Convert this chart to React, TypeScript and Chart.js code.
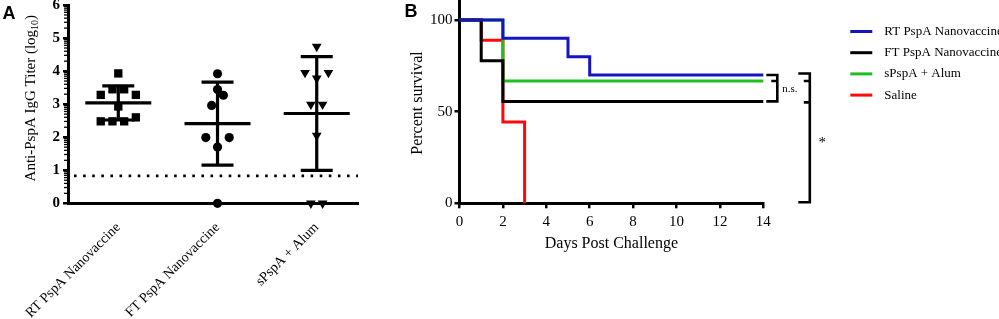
import React, { useEffect, useRef } from "react";
import { Chart, registerables } from "chart.js";
Chart.register(...registerables);

// ---------- Panel A data ----------
const groupNames = ["RT PspA Nanovaccine", "FT PspA Nanovaccine", "sPspA + Alum"];
const rtTiters = [3.93, 3.28, 3.45, 3.45, 3.28, 2.93, 2.48, 2.48, 2.48, 2.6];
const ftTiters = [3.92, 3.44, 2.96, 3.27, 1.99, 1.7, 1.99, 0];
const alumTiters = [4.74, 3.95, 3.78, 3.95, 2.99, 2.99, 2.05, 0, 0];
const detectionLimit = 0.83;
const titerTicks = [0, 1, 2, 3, 4, 5, 6];

// ---------- Panel B data ----------
const seriesNames = ["RT PspA Nanovaccine", "FT PspA Nanovaccine", "sPspA + Alum", "Saline"];
const rtDays = [0, 2, 5, 6, 14];
const rtSurvival = [100, 90, 80, 70, 70];
const ftDays = [0, 1, 2, 14];
const ftSurvival = [100, 77.8, 55.6, 55.6];
const alumDays = [0, 2, 14];
const alumSurvival = [100, 66.7, 66.7];
const salineDays = [0, 1, 2, 3];
const salineSurvival = [100, 88.9, 44.4, 0];
const dayTicks = [0, 2, 4, 6, 8, 10, 12, 14];
const survivalTicks = [0, 50, 100];

const SERIF = "'Liberation Serif', 'Times New Roman', serif";
const SANS = "'Liberation Sans', Arial, sans-serif";
const COLORS = ["#1414c4", "#000000", "#1fbf1f", "#ff0a0a"];

const OFFY = 20; // canvas is shifted up by this many px

function mean(v: number[]) {
  return v.reduce((a, b) => a + b, 0) / v.length;
}
function sd(v: number[]) {
  const m = mean(v);
  return Math.sqrt(v.reduce((a, b) => a + (b - m) * (b - m), 0) / (v.length - 1));
}

// GraphPad-like column scatter: bin values into rows, spread each row symmetrically
function swarm(values: number[], groupPos: number, bin = 0.32, step = 0.118) {
  const idx = values.map((_, i) => i).sort((a, b) => values[a] - values[b] || a - b);
  const rows: number[][] = [];
  let cur: number[] = [];
  let start = -Infinity;
  for (const i of idx) {
    if (values[i] - start > bin) {
      if (cur.length) rows.push(cur);
      cur = [i];
      start = values[i];
    } else cur.push(i);
  }
  if (cur.length) rows.push(cur);
  const xs: number[] = new Array(values.length);
  for (const row of rows) {
    row.sort((a, b) => a - b);
    row.forEach((i, k) => {
      xs[i] = groupPos + (k - (row.length - 1) / 2) * step;
    });
  }
  return values.map((v, i) => ({ x: xs[i], y: v }));
}

const groups = [rtTiters, ftTiters, alumTiters];

const panelAPlugin = {
  id: "panelA",
  beforeDatasetsDraw(chart: any) {
    const { ctx, chartArea } = chart;
    const x = chart.scales.x;
    const y = chart.scales.y;
    ctx.save();
    ctx.strokeStyle = "#000";
    // minor log ticks
    ctx.lineWidth = 1.3;
    for (let k = 0; k < titerTicks.length - 1; k++) {
      for (let m = 2; m <= 9; m++) {
        const py = y.getPixelForValue(titerTicks[k] + Math.log10(m));
        ctx.beginPath();
        ctx.moveTo(chartArea.left - 4, py);
        ctx.lineTo(chartArea.left, py);
        ctx.stroke();
      }
    }
    // detection limit dotted line
    ctx.lineWidth = 2.6;
    ctx.setLineDash([2.6, 6.5]);
    const ly = y.getPixelForValue(detectionLimit);
    ctx.beginPath();
    ctx.moveTo(chartArea.left + 6, ly);
    ctx.lineTo(chartArea.right, ly);
    ctx.stroke();
    ctx.setLineDash([]);
    // mean +/- SD
    ctx.lineWidth = 3.2;
    groups.forEach((vals, g) => {
      const m = mean(vals);
      const s = sd(vals);
      const px = x.getPixelForValue(g + 1);
      const pm = y.getPixelForValue(m);
      const pt = y.getPixelForValue(m + s);
      const pb = y.getPixelForValue(m - s);
      ctx.beginPath();
      ctx.moveTo(px, pt);
      ctx.lineTo(px, pb);
      ctx.moveTo(px - 33, pm);
      ctx.lineTo(px + 33, pm);
      ctx.moveTo(px - 16, pt);
      ctx.lineTo(px + 16, pt);
      ctx.moveTo(px - 16, pb);
      ctx.lineTo(px + 16, pb);
      ctx.stroke();
    });
    ctx.restore();
  },
  afterDraw(chart: any) {
    const { ctx, chartArea } = chart;
    ctx.save();
    ctx.fillStyle = "#000";
    // panel letter
    ctx.font = `bold 18px ${SANS}`;
    ctx.textAlign = "center";
    ctx.textBaseline = "middle";
    ctx.fillText("A", 9, 14 + OFFY);
    // y title with subscript
    const cx = 31;
    const cy = (chartArea.top + chartArea.bottom) / 2 - 6;
    ctx.translate(cx, cy);
    ctx.rotate(-Math.PI / 2);
    const main = "Anti-PspA IgG Titer (log";
    const sub = "10";
    const end = ")";
    ctx.font = `15px ${SERIF}`;
    const w1 = ctx.measureText(main).width;
    const w3 = ctx.measureText(end).width;
    ctx.font = `10px ${SERIF}`;
    const w2 = ctx.measureText(sub).width;
    const total = w1 + w2 + w3;
    let sx = -total / 2;
    ctx.textAlign = "left";
    ctx.textBaseline = "middle";
    ctx.font = `15px ${SERIF}`;
    ctx.fillText(main, sx, 0);
    sx += w1;
    ctx.font = `10px ${SERIF}`;
    ctx.fillText(sub, sx, 4);
    sx += w2;
    ctx.font = `15px ${SERIF}`;
    ctx.fillText(end, sx, 0);
    ctx.restore();
  },
};

const panelBPlugin = {
  id: "panelB",
  afterDraw(chart: any) {
    const { ctx, chartArea } = chart;
    const y = chart.scales.y;
    const R = chartArea.right;
    ctx.save();
    ctx.fillStyle = "#000";
    ctx.strokeStyle = "#000";
    // panel letter
    ctx.font = `bold 18px ${SANS}`;
    ctx.textAlign = "center";
    ctx.textBaseline = "middle";
    ctx.fillText("B", 21, 12 + OFFY);
    // axis titles
    ctx.font = `16px ${SERIF}`;
    ctx.fillText("Days Post Challenge", (chartArea.left + chartArea.right) / 2, 243.5 + OFFY);
    ctx.save();
    ctx.translate(28, 103 + OFFY);
    ctx.rotate(-Math.PI / 2);
    ctx.fillText("Percent survival", 0, 0);
    ctx.restore();

    // significance brackets
    const yRT = y.getPixelForValue(rtSurvival[rtSurvival.length - 1]);
    const yAl = y.getPixelForValue(alumSurvival[alumSurvival.length - 1]);
    const yFT = y.getPixelForValue(ftSurvival[ftSurvival.length - 1]);
    const ySa = y.getPixelForValue(salineSurvival[salineSurvival.length - 1]);
    ctx.lineWidth = 2.6;
    ctx.lineJoin = "miter";
    // n.s. bracket
    let xa = R + 3;
    let xb = R + 14;
    ctx.beginPath();
    ctx.moveTo(xa, yRT);
    ctx.lineTo(xb, yRT);
    ctx.lineTo(xb, yFT);
    ctx.lineTo(xa, yFT);
    ctx.moveTo(xb - 6, yAl);
    ctx.lineTo(xb, yAl);
    ctx.stroke();
    ctx.font = `11px ${SERIF}`;
    ctx.textAlign = "left";
    ctx.fillText("n.s.", R + 19, (yRT + yFT) / 2 + 1);
    // * bracket
    xa = R + 35;
    xb = R + 46.5;
    ctx.beginPath();
    ctx.moveTo(xa, yRT - 1.5);
    ctx.lineTo(xb, yRT - 1.5);
    ctx.lineTo(xb, ySa - 1);
    ctx.lineTo(xa, ySa - 1);
    ctx.moveTo(xb - 6, yAl);
    ctx.lineTo(xb, yAl);
    ctx.moveTo(xb - 6, yFT + 1);
    ctx.lineTo(xb, yFT + 1);
    ctx.stroke();
    ctx.font = `15px ${SERIF}`;
    ctx.textAlign = "center";
    ctx.fillText("*", R + 59, (yRT + ySa) / 2 + 4);

    // legend
    const ds = chart.data.datasets;
    ds.forEach((d: any, i: number) => {
      const ry = 31.5 + OFFY + i * 21.2;
      ctx.strokeStyle = d.borderColor;
      ctx.lineWidth = 3;
      ctx.beginPath();
      ctx.moveTo(R + 87, ry);
      ctx.lineTo(R + 109, ry);
      ctx.stroke();
      ctx.fillStyle = "#000";
      ctx.font = `13px ${SERIF}`;
      ctx.textAlign = "left";
      ctx.textBaseline = "middle";
      ctx.fillText(d.label, R + 121, ry);
    });
    ctx.restore();
  },
};

function makeA(canvas: HTMLCanvasElement) {
  const W = canvas.width;
  const H = canvas.height;
  const styles = [
    { pointStyle: "rect", pointRadius: 5.9, pointRotation: 0 },
    { pointStyle: "circle", pointRadius: 4.6, pointRotation: 0 },
    { pointStyle: "triangle", pointRadius: 5.6, pointRotation: 180 },
  ];
  return new Chart(canvas, {
    type: "scatter",
    data: {
      datasets: groups.map((vals, g) => ({
        label: groupNames[g],
        data: swarm(vals, g + 1),
        pointStyle: styles[g].pointStyle as any,
        pointRadius: styles[g].pointRadius,
        pointRotation: styles[g].pointRotation,
        pointBackgroundColor: "#000",
        pointBorderWidth: 0,
        backgroundColor: "#000",
        borderWidth: 0,
        clip: false as any,
      })),
    },
    options: {
      animation: false,
      responsive: false,
      devicePixelRatio: 1,
      events: [],
      layout: { padding: { left: 0, top: 25, right: W - 358, bottom: 0 } },
      plugins: { legend: { display: false }, tooltip: { enabled: false } },
      scales: {
        x: {
          type: "linear",
          min: 0.493,
          max: 3.416,
          afterBuildTicks: (s: any) => {
            s.ticks = groupNames.map((_, i) => ({ value: i + 1 }));
          },
          afterFit: (s: any) => {
            s.height = H - 223.3;
          },
          ticks: {
            autoSkip: false,
            maxRotation: 45,
            minRotation: 45,
            padding: 16,
            color: "#000",
            font: { family: SERIF, size: 14 },
            callback: (v: any) => groupNames[Math.round(Number(v)) - 1],
          },
          grid: { display: false, drawTicks: false, tickLength: 0 },
          border: { display: true, color: "#000", width: 3 },
        },
        y: {
          type: "linear",
          min: 0,
          max: 6,
          afterBuildTicks: (s: any) => {
            s.ticks = titerTicks.map((v) => ({ value: v }));
          },
          afterFit: (s: any) => {
            s.width = 68;
          },
          ticks: {
            padding: 3,
            color: "#000",
            font: { family: SERIF, size: 15, weight: "bold" },
          },
          grid: { drawOnChartArea: false, drawTicks: true, tickLength: 5, color: "#000", lineWidth: 2.5 },
          border: { display: true, color: "#000", width: 3 },
        },
      },
    } as any,
    plugins: [panelAPlugin],
  });
}

function makeB(canvas: HTMLCanvasElement) {
  const W = canvas.width;
  const H = canvas.height;
  const series = [
    [rtDays, rtSurvival],
    [ftDays, ftSurvival],
    [alumDays, alumSurvival],
    [salineDays, salineSurvival],
  ];
  return new Chart(canvas, {
    type: "line",
    data: {
      datasets: series.map(([days, surv], i) => ({
        label: seriesNames[i],
        data: days.map((d, k) => ({ x: d, y: surv[k] })),
        borderColor: COLORS[i],
        backgroundColor: COLORS[i],
        borderWidth: 3,
        stepped: "before" as any,
        pointRadius: 0,
        fill: false,
        borderCapStyle: "butt",
        borderJoinStyle: "miter",
        clip: false as any,
      })),
    },
    options: {
      animation: false,
      responsive: false,
      devicePixelRatio: 1,
      events: [],
      layout: { padding: { left: 0, top: 21.7, right: W - 373.3, bottom: 0 } },
      plugins: { legend: { display: false }, tooltip: { enabled: false } },
      scales: {
        x: {
          type: "linear",
          min: 0,
          max: 14,
          afterBuildTicks: (s: any) => {
            s.ticks = dayTicks.map((v) => ({ value: v }));
          },
          afterFit: (s: any) => {
            s.height = H - 223.3;
          },
          ticks: {
            padding: 5,
            maxRotation: 0,
            color: "#000",
            font: { family: SERIF, size: 15 },
          },
          grid: { drawOnChartArea: false, drawTicks: true, tickLength: 5, color: "#000", lineWidth: 2.5 },
          border: { display: true, color: "#000", width: 3 },
        },
        y: {
          type: "linear",
          min: 0,
          max: 110,
          afterBuildTicks: (s: any) => {
            s.ticks = survivalTicks.map((v) => ({ value: v }));
          },
          afterFit: (s: any) => {
            s.width = 69.5;
          },
          ticks: {
            padding: 2,
            color: "#000",
            font: { family: SERIF, size: 15 },
          },
          grid: { drawOnChartArea: false, drawTicks: true, tickLength: 5, color: "#000", lineWidth: 2.5 },
          border: { display: true, color: "#000", width: 3 },
        },
      },
    } as any,
    plugins: [panelBPlugin],
  });
}

export default function App() {
  const aRef = useRef<HTMLCanvasElement>(null);
  const bRef = useRef<HTMLCanvasElement>(null);
  useEffect(() => {
    const a = makeA(aRef.current as HTMLCanvasElement);
    const b = makeB(bRef.current as HTMLCanvasElement);
    return () => {
      a.destroy();
      b.destroy();
    };
  }, []);
  return (
    <div
      style={{
        position: "absolute",
        left: 0,
        top: 0,
        width: 999,
        height: 319,
        overflow: "hidden",
        background: "#fff",
      }}
    >
      <canvas
        ref={aRef}
        width={380}
        height={339}
        style={{ position: "absolute", left: 0, top: -OFFY, width: 380, height: 339 }}
      />
      <canvas
        ref={bRef}
        width={609}
        height={339}
        style={{ position: "absolute", left: 390, top: -OFFY, width: 609, height: 339 }}
      />
    </div>
  );
}
